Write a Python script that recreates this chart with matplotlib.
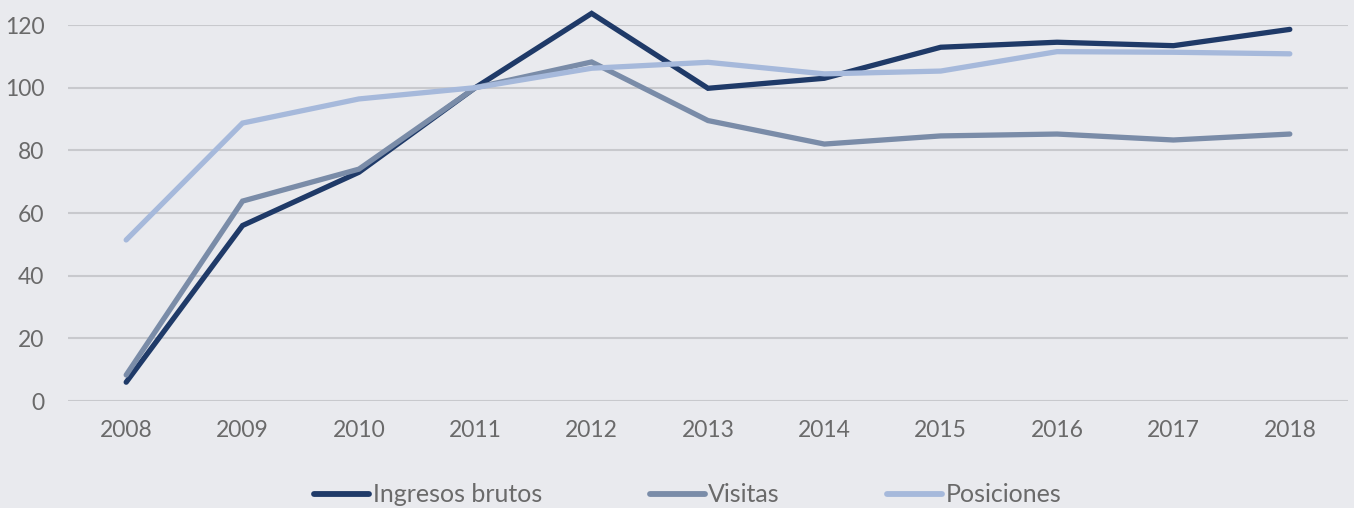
import matplotlib
matplotlib.use("Agg")
import matplotlib.pyplot as plt

years = ["2008", "2009", "2010", "2011", "2012", "2013", "2014", "2015", "2016", "2017", "2018"]
ingresos = [6.0, 56.0, 73.0, 100.0, 123.7, 99.8, 103.0, 112.9, 114.5, 113.4, 118.6]
visitas = [8.3, 63.8, 74.0, 100.0, 108.2, 89.5, 82.0, 84.6, 85.2, 83.3, 85.2]
posiciones = [51.4, 88.7, 96.4, 100.0, 106.2, 108.1, 104.4, 105.3, 111.5, 111.3, 110.8]
series_names = ["Ingresos brutos", "Visitas", "Posiciones"]
yticks = [0, 20, 40, 60, 80, 100, 120]

colors = ["#1F3A68", "#7A8CA8", "#A6B9DB"]
bg = "#E9EAEE"
txt = "#6A6A6A"

plt.rcParams['font.family'] = ['Lato', 'DejaVu Sans']

W, H = 1354, 508
fig = plt.figure(figsize=(W / 100, H / 100), dpi=100, facecolor=bg)
ax = fig.add_axes([68 / W, 1 - 401 / H, 1280 / W, 376 / H], facecolor=bg)

x = list(range(len(years)))
for vals, name, c in zip([ingresos, visitas, posiciones], series_names, colors):
    ax.plot(x, vals, color=c, lw=3.8, label=name, solid_capstyle='round',
            solid_joinstyle='miter', clip_on=False, zorder=3)

ax.set_xlim(-0.5, len(years) - 0.5)
ax.set_ylim(0, 120)
ax.set_yticks(yticks)
ax.set_xticks(x)
ax.set_xticklabels(years)
ax.grid(axis='y', color='#C8C9CD', lw=1.5, zorder=0)
ax.set_axisbelow(True)
for s in ax.spines.values():
    s.set_visible(False)
ax.tick_params(axis='both', length=0, labelsize=16.5, labelcolor=txt)
ax.tick_params(axis='y', pad=17)
ax.tick_params(axis='x', pad=14)

leg = fig.legend(loc='center', bbox_to_anchor=(688 / W, 1 - 495 / H), ncol=3,
                 frameon=False, fontsize=18, handlelength=2.2, handletextpad=0.15,
                 columnspacing=4.3, labelcolor=txt)
for l in leg.get_lines():
    l.set_solid_capstyle('round')
    l.set_linewidth(4.2)

fig.savefig("out.png", dpi=100, facecolor=bg)
